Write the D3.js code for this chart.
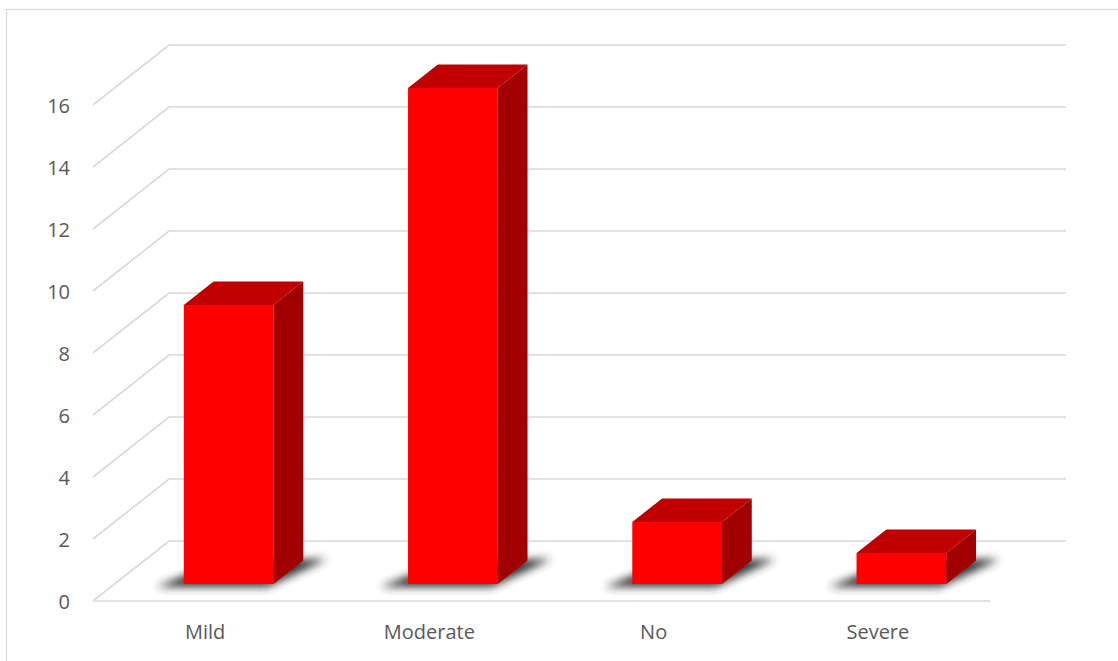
<!DOCTYPE html>
<html>
<head>
<meta charset="utf-8">
<script src="https://cdn.jsdelivr.net/npm/d3@7"></script>
<style>
  html, body { margin: 0; padding: 0; background: #fff; }
  svg { display: block; }
  text { font-family: "Open Sans", "Noto Sans", sans-serif; fill: #595959; }
</style>
</head>
<body>
<svg id="chart" width="1118" height="661"></svg>
<script>
// Severity counts
const categories = ["Mild", "Moderate", "No", "Severe"];
const counts = [9, 16, 2, 1];
const yTicks = [0, 2, 4, 6, 8, 10, 12, 14, 16];

const svg = d3.select("#chart");
const W = 1118, H = 661;

// Front plane of the 3D box
const x = d3.scaleBand().domain(categories).range([93, 990]);
const y = d3.scaleLinear().domain([0, 16]).range([601, 105]);

// Oblique depth offset (front -> back)
const DX = 76, DY = -60;
const proj = (xf, v, d) => [xf + d * DX, y(v) + d * DY];

// Bars occupy a slice of the depth
const D0 = 0.283, D1 = 0.675;
const barW = x.bandwidth() * 0.4;
const barShift = 2;

const defs = svg.append("defs");
defs.append("filter").attr("id", "soft").attr("x", "-50%").attr("y", "-50%")
  .attr("width", "200%").attr("height", "200%")
  .append("feGaussianBlur").attr("stdDeviation", 4);

// Chart area border
svg.append("rect")
  .attr("x", 6.5).attr("y", 9.5).attr("width", W + 10).attr("height", H + 10)
  .attr("fill", "none").attr("stroke", "#d9d9d9").attr("stroke-width", 1.2);

// Gridlines: diagonal along the left side wall, then across the back wall
const grid = svg.append("g").attr("fill", "none").attr("stroke", "#d9d9d9").attr("stroke-width", 1.6);
yTicks.forEach(v => {
  const a = proj(x.range()[0], v, 0);
  const b = proj(x.range()[0], v, 1);
  const c = proj(x.range()[1], v, 1);
  grid.append("path").attr("d", d3.line()([a, b, c]));
});
// Front edge of the floor
grid.append("line")
  .attr("x1", x.range()[0]).attr("x2", x.range()[1])
  .attr("y1", y(0)).attr("y2", y(0));

// Y axis labels
svg.append("g").selectAll("text").data(yTicks).join("text")
  .attr("x", 70).attr("y", d => y(d) + 8)
  .attr("text-anchor", "end")
  .attr("font-size", 20)
  .text(d => d);

// Category labels
svg.append("g").selectAll("text").data(categories).join("text")
  .attr("x", d => x(d) + x.bandwidth() / 2)
  .attr("y", 639)
  .attr("text-anchor", "middle")
  .attr("font-size", 20)
  .text(d => d);

const data = categories.map((c, i) => ({ c, v: counts[i] }));
const line = d3.line();

// Soft floor shadows under each bar
svg.append("g").selectAll("path").data(data).join("path")
  .attr("d", d => {
    const cx = x(d.c) + x.bandwidth() / 2 + barShift;
    const l = cx - barW / 2 - 24, r = cx + barW / 2 + 22;
    return line([proj(l, 0, D0 - 0.05), proj(r - 24, 0, D0 - 0.05),
                 proj(r, 0, D1 + 0.02), proj(l + 34, 0, D1 + 0.02)]) + "Z";
  })
  .attr("fill", "#2a2a2a").attr("opacity", 0.95)
  .attr("filter", "url(#soft)");

// 3D columns
const bars = svg.append("g").selectAll("g").data(data).join("g");
bars.each(function(d) {
  const g = d3.select(this);
  const cx = x(d.c) + x.bandwidth() / 2 + barShift;
  const l = cx - barW / 2, r = cx + barW / 2;
  // right side face
  g.append("path")
    .attr("d", line([proj(r, 0, D0), proj(r, 0, D1), proj(r, d.v, D1), proj(r, d.v, D0)]) + "Z")
    .attr("fill", "#a00000");
  // top face
  g.append("path")
    .attr("d", line([proj(l, d.v, D0), proj(r, d.v, D0), proj(r, d.v, D1), proj(l, d.v, D1)]) + "Z")
    .attr("fill", "#c00000");
  // front face
  const p0 = proj(l, d.v, D0), p1 = proj(r, 0, D0);
  g.append("rect")
    .attr("x", p0[0]).attr("y", p0[1])
    .attr("width", p1[0] - p0[0]).attr("height", p1[1] - p0[1])
    .attr("fill", "#ff0000");
});
</script>
</body>
</html>
